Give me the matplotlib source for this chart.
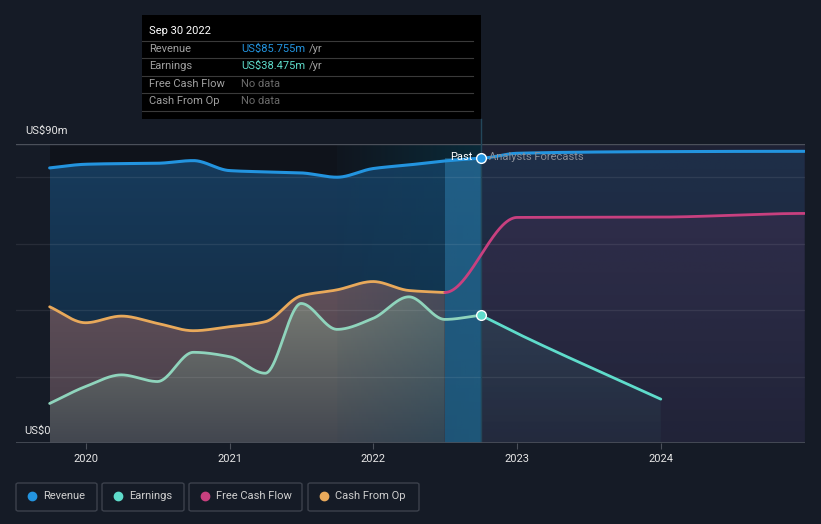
import numpy as np
import matplotlib
matplotlib.use("Agg")
import matplotlib.pyplot as plt
from matplotlib.patches import Rectangle, FancyBboxPatch
from matplotlib.colors import LinearSegmentedColormap, to_rgb

plt.rcParams['font.family'] = ['Roboto', 'DejaVu Sans']

# ---------------- data (US$ m) ----------------
past_t = [2019.747, 2019.997, 2020.247, 2020.497, 2020.747, 2020.997, 2021.247,
          2021.497, 2021.747, 2021.997, 2022.247, 2022.497, 2022.747]
revenue_past = [82.8, 83.9, 84.1, 84.2, 85.0, 82.0, 81.6, 81.3, 80.0, 82.6, 83.7, 84.9, 85.755]
earnings_past = [11.9, 17.0, 20.5, 18.5, 27.3, 26.0, 21.0, 42.0, 34.2, 37.5, 44.0, 37.2, 38.475]
cfo_t = past_t[:12]
cfo_past = [41.0, 36.2, 38.2, 36.0, 33.8, 35.0, 36.5, 44.3, 46.1, 48.6, 45.9, 45.3]

fc_t = [2022.747, 2023.0, 2024.0, 2025.0]
revenue_fc = [85.755, 87.2, 87.7, 87.8]
earn_fc_t = [2022.747, 2023.0, 2024.0]
earnings_fc = [38.475, 33.0, 13.2]
fcf_t = [2022.497, 2023.0, 2024.0, 2025.0]
fcf_fc = [45.3, 67.9, 68.0, 69.1]

year_ticks = [2020, 2021, 2022, 2023, 2024]
legend_labels = ["Revenue", "Earnings", "Free Cash Flow", "Cash From Op"]

C_REV = "#2394df"
C_EARN = "#5fdccb"
C_EARN_P = "#8fd4bc"
C_FCF = "#c8407f"
C_CFO = "#e8a95b"
BG = "#151b26"


def pchip(x, y, xs, ends="flat"):
    x = np.asarray(x, float); y = np.asarray(y, float)
    h = np.diff(x); d = np.diff(y) / h
    n = len(x); m = np.zeros(n)
    for k in range(1, n - 1):
        if d[k - 1] * d[k] <= 0:
            m[k] = 0
        else:
            w1 = 2 * h[k] + h[k - 1]; w2 = h[k] + 2 * h[k - 1]
            m[k] = (w1 + w2) / (w1 / d[k - 1] + w2 / d[k])
    if ends == "secant":
        m[0] = d[0]; m[-1] = d[-1]
    out = np.empty_like(xs)
    idx = np.clip(np.searchsorted(x, xs) - 1, 0, n - 2)
    for j, xv in enumerate(xs):
        k = idx[j]; hk = h[k]; s = (xv - x[k]) / hk
        h00 = 2 * s**3 - 3 * s**2 + 1; h10 = s**3 - 2 * s**2 + s
        h01 = -2 * s**3 + 3 * s**2; h11 = s**3 - s**2
        out[j] = h00 * y[k] + h10 * hk * m[k] + h01 * y[k + 1] + h11 * hk * m[k + 1]
    return out


def smooth(t, v, n=500, ends="flat"):
    xs = np.linspace(t[0], t[-1], n)
    return xs, pchip(t, v, xs, ends)


def grad_fill(ax, x, y, c_top, c_bot, ytop, a_top=1.0, a_bot=1.0, zorder=2):
    poly = ax.fill_between(x, 0, y, facecolor='none', edgecolor='none', zorder=zorder)
    path = poly.get_paths()[0]
    ct = np.array(to_rgb(c_top)); cb = np.array(to_rgb(c_bot))
    f = np.linspace(1, 0, 256)[:, None]
    rgb = cb + (ct - cb) * f
    a = a_bot + (a_top - a_bot) * f
    arr = np.concatenate([rgb, a], axis=1).reshape(256, 1, 4)
    im = ax.imshow(arr, extent=[x[0], x[-1], 0, ytop], aspect='auto', origin='upper',
                   zorder=zorder, interpolation='bilinear')
    im.set_clip_path(path, transform=ax.transData)
    return im


W, H = 821, 524
fig = plt.figure(figsize=(W / 100, H / 100), dpi=100, facecolor=BG)
ax = fig.add_axes([16 / W, 81 / H, 789 / W, 299 / H])
ax.set_facecolor(BG)
x0 = 2020 + (16 - 86) / 143.7
x1 = 2020 + (805 - 86) / 143.7
for s in ax.spines.values():
    s.set_visible(False)

# background regions
ax.axvspan(past_t[0], past_t[8], color="#0f131b", zorder=0, lw=0)
grad = LinearSegmentedColormap.from_list("g", ["#10161f", "#0a2a39"])
ax.imshow(np.linspace(0, 1, 100).reshape(1, -1), cmap=grad, aspect='auto',
          extent=[past_t[8], past_t[-1], 0, 90], zorder=0)
ax.axvspan(past_t[-1], x1, color="#1e2134", zorder=0, lw=0)

# grid
for g in [20, 40, 60, 80]:
    ax.axhline(g, color="white", alpha=0.08, lw=0.9, zorder=3.2)
ax.axhline(90, color="#4b505a", lw=1.0, zorder=1)
ax.axhline(0, color="#4b505a", lw=1.2, zorder=6)

# revenue
rx, ry = smooth(past_t, revenue_past, ends="secant")
grad_fill(ax, rx, ry, "#173b5c", "#12263a", 86, zorder=1.5)
fx, fy = smooth(fc_t, revenue_fc)
grad_fill(ax, fx, fy, C_REV, C_REV, 88, a_top=0.12, a_bot=0.02, zorder=1.5)

# cash from op
cx, cy = smooth(cfo_t, cfo_past, ends="secant")
grad_fill(ax, cx, cy, "#62515a", "#443c48", 50, zorder=2)

# earnings
ex, ey = smooth(past_t, earnings_past, ends="secant")
mask = ex <= cfo_t[-1] + 1e-9
grad_fill(ax, ex[mask], ey[mask], "#787b74", "#42464f", 45, zorder=2.2)
efx, efy = smooth(earn_fc_t, earnings_fc, ends="secant")
grad_fill(ax, efx, efy, C_EARN, C_EARN, 40, a_top=0.11, a_bot=0.04, zorder=2.2)

# free cash flow
ffx, ffy = smooth(fcf_t, fcf_fc)
m2 = ffx >= past_t[-1]
grad_fill(ax, ffx[m2], ffy[m2], C_FCF, C_FCF, 70, a_top=0.10, a_bot=0.02, zorder=2.1)

# highlight over last year (below revenue)
hl_mask = rx >= past_t[8]
hpoly = ax.fill_between(rx[hl_mask], 0, ry[hl_mask], facecolor='none', edgecolor='none')
hpath = hpoly.get_paths()[0]
ha = np.zeros((1, 100, 4))
ha[..., :3] = to_rgb("#0b4562")
ha[0, :, 3] = np.linspace(0.05, 0.35, 100)
him = ax.imshow(ha, extent=[past_t[8], past_t[-1], 0, 90], aspect='auto', zorder=3,
                interpolation='bilinear')
him.set_clip_path(hpath, transform=ax.transData)

# strip of last period
ax.axvspan(cfo_t[-1], past_t[-1], ymax=ry[-1] / 90, color="#3a9ad0", alpha=0.36, zorder=3.1, lw=0)

# lines
ax.plot(rx, ry, color=C_REV, lw=2.2, zorder=4, solid_capstyle='round')
ax.plot(fx, fy, color=C_REV, lw=2.2, zorder=4, solid_capstyle='round')
ax.plot(cx, cy, color=C_CFO, lw=2.0, zorder=4, solid_capstyle='round')
ax.plot(ex, ey, color=C_EARN_P, lw=2.0, zorder=4, solid_capstyle='round')
ax.plot(efx, efy, color=C_EARN, lw=2.0, zorder=4, solid_capstyle='round')
ax.plot(ffx, ffy, color=C_FCF, lw=2.0, zorder=4, solid_capstyle='round')

ax.axvline(past_t[-1], color="#23475a", lw=1.0, zorder=3.5)
ax.plot([past_t[-1]], [revenue_past[-1]], 'o', ms=7, mfc=C_REV, mec="white", mew=1.0, zorder=5)
ax.plot([past_t[-1]], [earnings_past[-1]], 'o', ms=7, mfc=C_EARN, mec="white", mew=1.0, zorder=5)

ax.text(past_t[-1] - 0.06, revenue_past[-1] + 0.4, "Past", color="white", fontsize=8,
        ha='right', va='center', zorder=6)
ax.text(past_t[-1] + 0.06, revenue_past[-1] + 0.4, "Analysts Forecasts", color="#8a8f98",
        fontsize=8, ha='left', va='center', zorder=6)

ax.set_xlim(x0, x1)
ax.set_ylim(0, 90)

# ticks
ax.set_yticks([])
ax.set_xticks(year_ticks)
ax.set_xticklabels([str(y) for y in year_ticks], color="#e6e6e6", fontsize=8)
ax.tick_params(axis='x', length=4, color="#4b505a", pad=4)

# y labels
fig.text(25 / W, 1 - 131 / H, "US$90m", color="#e6e6e6", fontsize=8, va='center', ha='left')
fig.text(24 / W, 1 - 431 / H, "US$0", color="#e6e6e6", fontsize=8, va='center', ha='left')

# vertical line up to tooltip
fig.add_artist(plt.Line2D([481 / W, 481 / W], [1 - 144 / H, 1 - 119 / H], color="#23475a", lw=1.0))

# tooltip
fig.add_artist(Rectangle((142 / W, 1 - 119 / H), (481 - 142) / W, (119 - 15) / H,
                         transform=fig.transFigure, facecolor="black", edgecolor="none"))
fig.text(149 / W, 1 - 31 / H, "Sep 30 2022", color="white", fontsize=8, va='center')
rows = [("Revenue", "US$85.755m", C_REV, True),
        ("Earnings", "US$38.475m", C_EARN, True),
        ("Free Cash Flow", "No data", "#6b6b6b", False),
        ("Cash From Op", "No data", "#6b6b6b", False)]
ys = [49, 66, 84, 101]
for yl in [41, 58, 76, 93, 111]:
    fig.add_artist(plt.Line2D([142 / W, 473 / W], [1 - yl / H, 1 - yl / H], color="#3a3a3a", lw=0.8))
for (lab, val, col, yr), yy in zip(rows, ys):
    fig.text(149 / W, 1 - yy / H, lab, color="#a0a0a0", fontsize=8, va='center')
    t = fig.text(241 / W, 1 - yy / H, val, color=col, fontsize=8, va='center')
    if yr:
        fig.canvas.draw()
        bb = t.get_window_extent()
        fig.text((bb.x1 + 4) / W, 1 - yy / H, "/yr", color="#a0a0a0", fontsize=8, va='center')

# legend
boxes = [(16, 97), (102, 184), (189, 302), (308, 419)]
lcols = [C_REV, C_EARN, C_FCF, C_CFO]
for (bx0, bx1), lab, col in zip(boxes, legend_labels, lcols):
    fig.add_artist(FancyBboxPatch((bx0 / W, 1 - 511 / H), (bx1 - bx0) / W, 28 / H,
                                  boxstyle="round,pad=0,rounding_size=0.003",
                                  transform=fig.transFigure, facecolor="none",
                                  edgecolor="#3c414c", lw=1.0))
    fig.add_artist(plt.Line2D([(bx0 + 16) / W], [1 - 496 / H], marker='o', ms=6,
                              color=col, transform=fig.transFigure))
    fig.text((bx0 + 27) / W, 1 - 496 / H, lab, color="#cfcfcf", fontsize=8, va='center')

fig.savefig("out.png", dpi=100, facecolor=BG)
